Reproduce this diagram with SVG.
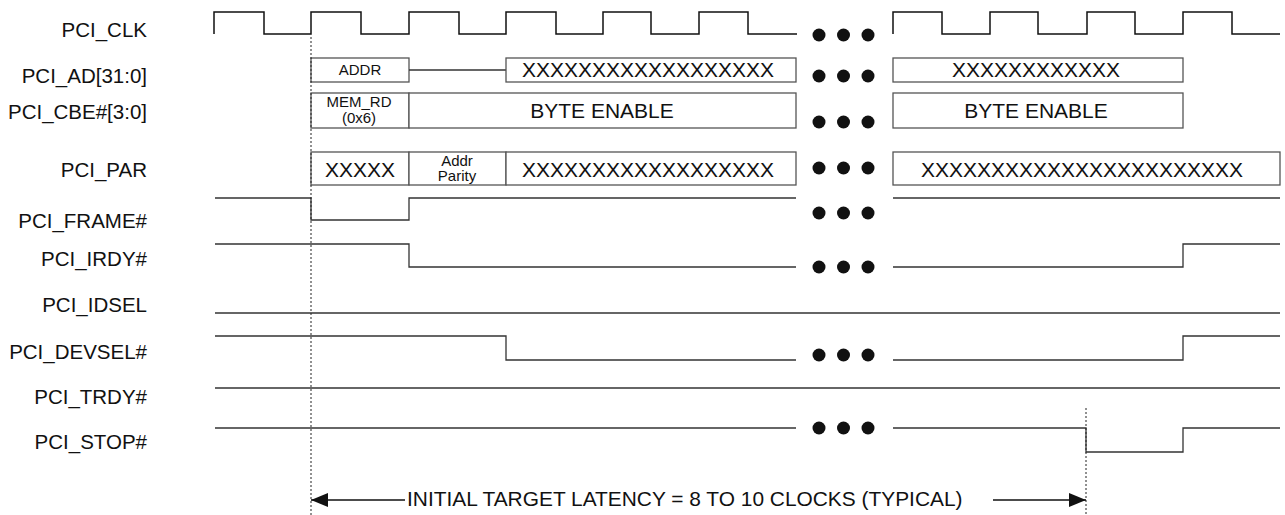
<svg xmlns="http://www.w3.org/2000/svg" width="1285" height="515" viewBox="0 0 1285 515">
<defs>
<style>
.lbl{font-family:"Liberation Sans",Arial,sans-serif;font-size:20.5px;fill:#111;text-anchor:end}
.big{font-family:"Liberation Sans",Arial,sans-serif;font-size:21px;fill:#111;text-anchor:middle}
.sm{font-family:"Liberation Sans",Arial,sans-serif;font-size:15px;fill:#111;text-anchor:middle}
.box{fill:#fff;stroke:#555;stroke-width:1.3}
.w{fill:none;stroke:#333;stroke-width:1.3}
.clk{fill:none;stroke:#111;stroke-width:1.5}
.dash{fill:none;stroke:#222;stroke-width:1;stroke-dasharray:2,2}
.dot{fill:#111}
</style>
<marker id="ah" viewBox="0 0 17 14" refX="17" refY="7" markerWidth="17" markerHeight="14" markerUnits="userSpaceOnUse" orient="auto-start-reverse">
<path d="M0,0 L17,7 L0,14 Z" fill="#111"/>
</marker>
<g id="dots"><circle cx="0" cy="0" r="6.5"/><circle cx="24.5" cy="0" r="6.5"/><circle cx="49" cy="0" r="6.5"/></g>
</defs>
<rect width="1285" height="515" fill="#fff"/>

<g id="sig-clk">
<text class="lbl" x="147" y="37">PCI_CLK</text>
<path class="clk" d="M214,34 V12 H264 V34 H311 V12 H361 V34 H409 V12 H459 V34 H506 V12 H556 V34 H603 V12 H651 V34 H699 V12 H748 V34 H797"/>
<path class="clk" d="M893,34 V12 H942 V34 H990 V12 H1038 V34 H1087 V12 H1135 V34 H1183 V12 H1232 V34 H1280"/>
<use href="#dots" x="819" y="35" class="dot"/>
</g>

<g id="sig-ad">
<text class="lbl" x="147" y="83">PCI_AD[31:0]</text>
<rect class="box" x="311" y="58" width="98" height="24"/>
<text class="sm" x="360" y="75">ADDR</text>
<line class="w" x1="409" y1="70" x2="506" y2="70"/>
<rect class="box" x="506" y="58" width="290" height="24"/>
<text class="big" x="648" y="77">XXXXXXXXXXXXXXXXXX</text>
<rect class="box" x="893" y="58" width="290" height="24"/>
<text class="big" x="1036" y="77">XXXXXXXXXXXX</text>
<use href="#dots" x="819" y="76" class="dot"/>
</g>

<g id="sig-cbe">
<text class="lbl" x="147" y="119">PCI_CBE#[3:0]</text>
<rect class="box" x="311" y="93" width="98" height="35"/>
<text class="sm" x="359" y="107">MEM_RD</text>
<text class="sm" x="359" y="123">(0x6)</text>
<rect class="box" x="409" y="93" width="387" height="35"/>
<text class="big" x="602" y="118">BYTE ENABLE</text>
<rect class="box" x="893" y="93" width="290" height="35"/>
<text class="big" x="1036" y="118">BYTE ENABLE</text>
<use href="#dots" x="819" y="122" class="dot"/>
</g>

<g id="sig-par">
<text class="lbl" x="147" y="177">PCI_PAR</text>
<rect class="box" x="311" y="152" width="98" height="33"/>
<text class="big" x="360" y="177">XXXXX</text>
<rect class="box" x="409" y="152" width="97" height="33"/>
<text class="sm" x="457" y="166">Addr</text>
<text class="sm" x="457" y="181">Parity</text>
<rect class="box" x="506" y="152" width="290" height="33"/>
<text class="big" x="648" y="177">XXXXXXXXXXXXXXXXXX</text>
<rect class="box" x="893" y="152" width="387" height="33"/>
<text class="big" x="1082" y="177">XXXXXXXXXXXXXXXXXXXXXXX</text>
<use href="#dots" x="819" y="168" class="dot"/>
</g>

<g id="sig-frame">
<text class="lbl" x="147" y="228">PCI_FRAME#</text>
<path class="w" d="M215,198 H311 V220 H409 V198 H796"/>
<path class="w" d="M893,198 H1280"/>
<use href="#dots" x="819" y="213" class="dot"/>
</g>

<g id="sig-irdy">
<text class="lbl" x="147" y="266">PCI_IRDY#</text>
<path class="w" d="M215,244 H409 V267 H796"/>
<path class="w" d="M893,267 H1183 V244 H1280"/>
<use href="#dots" x="819" y="267" class="dot"/>
</g>

<g id="sig-idsel">
<text class="lbl" x="147" y="312">PCI_IDSEL</text>
<path class="w" d="M215,313 H1280"/>
</g>

<g id="sig-devsel">
<text class="lbl" x="147" y="359">PCI_DEVSEL#</text>
<path class="w" d="M215,336 H506 V360 H796"/>
<path class="w" d="M893,360 H1183 V336 H1280"/>
<use href="#dots" x="819" y="355" class="dot"/>
</g>

<g id="sig-trdy">
<text class="lbl" x="147" y="404">PCI_TRDY#</text>
<path class="w" d="M215,388 H1280"/>
</g>

<g id="sig-stop">
<text class="lbl" x="147" y="449">PCI_STOP#</text>
<path class="w" d="M215,428 H796"/>
<path class="w" d="M893,428 H1086 V452 H1183 V428 H1280"/>
<use href="#dots" x="819" y="428" class="dot"/>
</g>

<g id="connectors">
<line class="dash" x1="311" y1="37" x2="311" y2="515"/>
<line class="dash" x1="1086" y1="408" x2="1086" y2="515"/>
<line x1="405" y1="500" x2="311" y2="500" stroke="#111" stroke-width="1.3" marker-end="url(#ah)"/>
<line x1="993" y1="500" x2="1086" y2="500" stroke="#111" stroke-width="1.3" marker-end="url(#ah)"/>
</g>

<g id="latency-label">
<text x="407" y="506" font-family="Liberation Sans, Arial, sans-serif" font-size="20.9" fill="#111">INITIAL TARGET LATENCY = 8 TO 10 CLOCKS (TYPICAL)</text>
</g>
</svg>
